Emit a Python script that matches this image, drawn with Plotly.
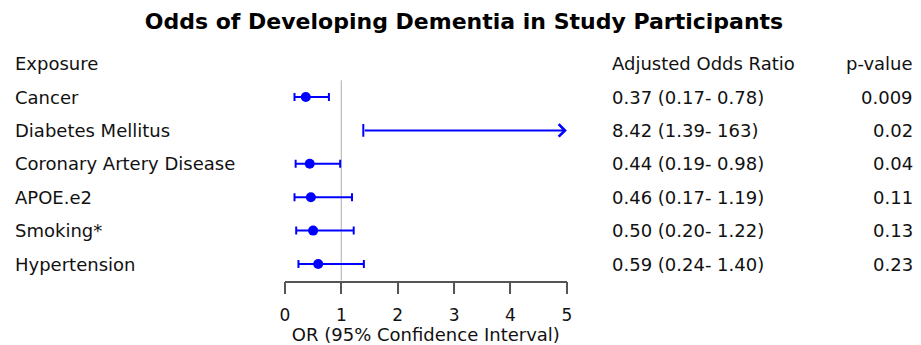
import plotly.graph_objects as go

# ---- data ----
exposures = ["Cancer", "Diabetes Mellitus", "Coronary Artery Disease", "APOE.e2", "Smoking*", "Hypertension"]
or_vals = [0.37, 8.42, 0.44, 0.46, 0.50, 0.59]
ci_low = [0.17, 1.39, 0.19, 0.17, 0.20, 0.24]
ci_high = [0.78, 163, 0.98, 1.19, 1.22, 1.40]
or_labels = ["0.37 (0.17- 0.78)", "8.42 (1.39- 163)", "0.44 (0.19- 0.98)",
             "0.46 (0.17- 1.19)", "0.50 (0.20- 1.22)", "0.59 (0.24- 1.40)"]
p_labels = ["0.009", "0.02", "0.04", "0.11", "0.13", "0.23"]
headers = ["Exposure", "Adjusted Odds Ratio", "p-value"]
x_ticks = [0, 1, 2, 3, 4, 5]
x_max = 5

BLUE = "#0000FF"
FONT = "DejaVu Sans"
TXT = "#111111"

W, H = 921, 345


def px(x):
    return x / W


def py(y):
    return 1 - y / H


rows = list(range(1, len(exposures) + 1))

fig = go.Figure()

in_x, in_y, in_plus, in_minus = [], [], [], []
for r, o, lo, hi in zip(rows, or_vals, ci_low, ci_high):
    if hi <= x_max:
        in_x.append(o)
        in_y.append(r)
        in_plus.append(hi - o)
        in_minus.append(o - lo)

fig.add_trace(go.Scatter(
    x=in_x, y=in_y, mode="markers",
    marker=dict(color=BLUE, size=10),
    error_x=dict(type="data", symmetric=False, array=in_plus, arrayminus=in_minus,
                 color=BLUE, thickness=2, width=4),
    hoverinfo="skip", showlegend=False,
))

for r, o, lo, hi in zip(rows, or_vals, ci_low, ci_high):
    if hi > x_max:
        fig.add_trace(go.Scatter(
            x=[lo], y=[r], mode="markers",
            marker=dict(symbol="line-ns-open", size=9, color=BLUE, line=dict(color=BLUE, width=2)),
            hoverinfo="skip", showlegend=False,
        ))
        fig.add_annotation(x=x_max, y=r, ax=lo, ay=r, xref="x", yref="y",
                           axref="x", ayref="y", text="", showarrow=True,
                           arrowhead=4, arrowsize=1.2, arrowwidth=2,
                           arrowcolor=BLUE, standoff=0, startstandoff=0)

# reference line at OR = 1
fig.add_shape(type="line", x0=1, x1=1, xref="x", y0=0.5, y1=len(rows) + 0.5, yref="y",
              line=dict(color="#bbbbbb", width=1.2), layer="below")

fs = 18
col_x = [px(9), px(613), px(919)]
col_anchor = ["left", "left", "right"]


def cell(x, y, text, anchor):
    fig.add_annotation(x=x, y=y, xref="paper", yref="y", text=text, showarrow=False,
                       xanchor=anchor, borderpad=0,
                       font=dict(family=FONT, size=fs, color=TXT))


for cx, ca, h in zip(col_x, col_anchor, headers):
    cell(cx, 0, h, ca)
for r, name, orl, p in zip(rows, exposures, or_labels, p_labels):
    cell(col_x[0], r, name, col_anchor[0])
    cell(col_x[1], r, orl, col_anchor[1])
    cell(col_x[2], r, p, col_anchor[2])

row_px = 33.4
top_px = 97 - 1.5 * row_px
bot_px = 97 + 5.5 * row_px

fig.update_layout(
    width=W, height=H,
    margin=dict(l=0, r=0, t=0, b=0),
    paper_bgcolor="white", plot_bgcolor="white",
    title=dict(text="<b>Odds of Developing Dementia in Study Participants</b>",
               x=px(464), xanchor="center", y=py(21), yanchor="middle",
               font=dict(family=FONT, size=22, color="black")),
    font=dict(family=FONT, color=TXT),
    xaxis=dict(domain=[px(283), px(568)], range=[0, x_max], tickvals=x_ticks,
               showgrid=False, zeroline=False, showline=True, linecolor="#555555",
               linewidth=1.5, ticks="outside", ticklen=12, tickwidth=1.5, tickcolor="#555555",
               tickfont=dict(family=FONT, size=17, color=TXT), ticklabelstandoff=6,
               title=dict(text="OR (95% Confidence Interval)", standoff=0,
                          font=dict(family=FONT, size=18, color=TXT))),
    yaxis=dict(domain=[py(bot_px), py(top_px)], range=[6.5, -0.5],
               visible=False, showgrid=False, zeroline=False),
)

fig.write_html("out.html", config={"displayModeBar": False},
               post_script="document.body.style.margin='0';document.body.style.overflow='hidden';")
